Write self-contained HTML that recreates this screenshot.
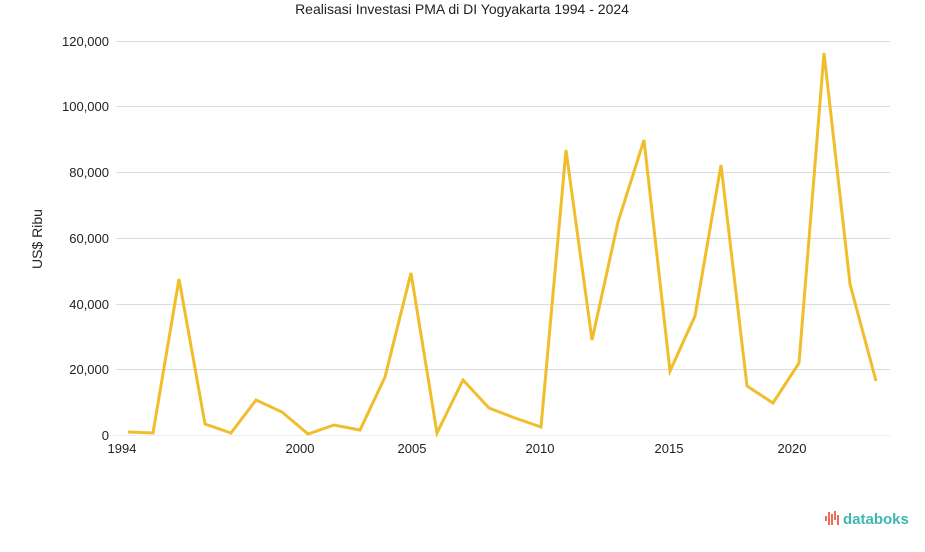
<!DOCTYPE html>
<html><head><meta charset="utf-8"><style>
body{margin:0;background:#fff;width:925px;height:547px;overflow:hidden;font-family:"Liberation Sans",sans-serif}
</style></head><body>
<svg width="925" height="547" xmlns="http://www.w3.org/2000/svg" font-family="Liberation Sans, sans-serif">
<text x="462" y="14" text-anchor="middle" font-size="14" fill="#222">Realisasi Investasi PMA di DI Yogyakarta 1994 - 2024</text>
<g stroke="#dcdcdc" stroke-width="1">
<line x1="116" x2="890" y1="41.5" y2="41.5"/>
<line x1="116" x2="890" y1="106.5" y2="106.5"/>
<line x1="116" x2="890" y1="172.5" y2="172.5"/>
<line x1="116" x2="890" y1="238.5" y2="238.5"/>
<line x1="116" x2="890" y1="304.5" y2="304.5"/>
<line x1="116" x2="890" y1="369.5" y2="369.5"/>
<line x1="106" x2="890" y1="435.5" y2="435.5" stroke="#eee"/>
</g>
<g font-size="13" fill="#222" text-anchor="end">
<text x="109" y="46">120,000</text>
<text x="109" y="111">100,000</text>
<text x="109" y="177">80,000</text>
<text x="109" y="243">60,000</text>
<text x="109" y="309">40,000</text>
<text x="109" y="374">20,000</text>
<text x="109" y="440">0</text>
</g>
<g font-size="13" fill="#222" text-anchor="middle">
<text x="122" y="453">1994</text>
<text x="300" y="453">2000</text>
<text x="412" y="453">2005</text>
<text x="540" y="453">2010</text>
<text x="669" y="453">2015</text>
<text x="792" y="453">2020</text>
</g>
<text transform="translate(42,239) rotate(-90)" text-anchor="middle" font-size="14" fill="#222">US$ Ribu</text>
<polyline fill="none" stroke="#f0be2b" stroke-width="3" stroke-linejoin="miter" points="128,432 153,433 179,279 205,424 231,433 256,400 282,412 308,434 334,425 360,430 385,377 411,273 437,433 463,380 489,408 515,418 541,427 566,150 592,340 618,222 644,140 670,371 695,316 721,165 747,386 773,403 799,363 824,53 850,284 876,381"/>
<g fill="#ef6c5a">
<rect x="825" y="516" width="2" height="5"/><rect x="828" y="512" width="2" height="13"/><rect x="831" y="514" width="2" height="11"/><rect x="834" y="511" width="2" height="9"/><rect x="837" y="515" width="2" height="10"/>
</g>
<text x="843" y="524" font-size="15" fill="#3fb7b0" font-weight="bold">databoks</text>
</svg>
</body></html>
